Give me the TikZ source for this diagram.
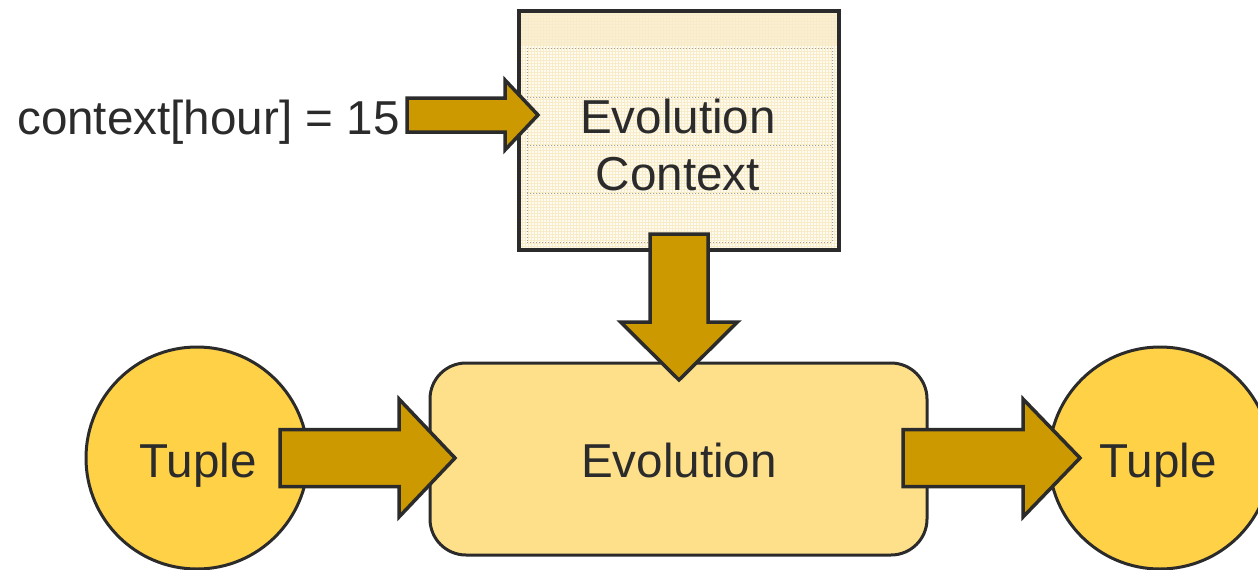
\documentclass[tikz,border=0pt]{standalone}
\usepackage{fontspec}
\setmainfont{Liberation Sans}
\usetikzlibrary{calc,patterns}
\definecolor{edge}{HTML}{2B2B2B}
\definecolor{gold}{HTML}{CC9900}
\definecolor{tuplefill}{HTML}{FFD147}
\definecolor{evofill}{HTML}{FFE08A}
\definecolor{ctxfill}{HTML}{FFFBF0}
\definecolor{ctxband}{HTML}{FAEFD2}
\definecolor{ctxgrid}{HTML}{F8EBC8}
\definecolor{rowline}{HTML}{A0A0A0}
\definecolor{ink}{HTML}{2B2B2B}

% fat block arrow from #1 (tail) to #2 (tip):
% #3 shaft half-width, #4 head half-width, #5 head length
\newcommand\fatarrow[5]{%
  \path[blockarrow] let \p1=(#1), \p2=(#2),
      \n1={atan2(\y2-\y1,\x2-\x1)}, \n2={veclen(\x2-\x1,\y2-\y1)} in
    [shift={(\p1)}, rotate=\n1]
    (0,-#3) -- (\n2-#5,-#3) -- (\n2-#5,-#4) -- (\n2,0) --
    (\n2-#5,#4) -- (\n2-#5,#3) -- (0,#3) -- cycle;}

\begin{document}
\begin{tikzpicture}[x=1pt,y=-1pt,line join=miter,
  lbl/.style={font=\fontsize{47.6}{57}\selectfont,text=ink,inner sep=0pt},
  blockarrow/.style={fill=gold,draw=edge,line width=3.5pt},
  tuple/.style={circle,fill=tuplefill,draw=edge,line width=3pt,
                minimum size=222pt,inner sep=0pt},
  evobox/.style={rectangle,rounded corners=36pt,fill=evofill,draw=edge,
                 line width=3pt,minimum width=497pt,minimum height=192pt},
  ctxbox/.style={rectangle,draw=edge,line width=3.5pt,
                 minimum width=320pt,minimum height=239pt},
  rowsep/.style={draw=rowline,line width=1pt,dotted}]
\useasboundingbox (0,0) rectangle (1258,570);
\clip (0,0) rectangle (1258,570);

% context table
\node[ctxbox,fill=ctxfill] (ctx) at (679,130.5) {};
\fill[ctxband] ($(ctx.north west)+(2,2)$) rectangle ($(ctx.north east)+(-2,37)$);
\fill[pattern=grid,pattern color=ctxgrid]
  ($(ctx.north west)+(2,2)$) rectangle ($(ctx.south east)+(-2,-2)$);
\foreach \yy in {48,97,145,193,242}
  \draw[rowsep] (527,\yy) -- (832,\yy);
\draw[rowsep] (527,48) -- (527,242);
\draw[rowsep] (832,48) -- (832,242);
\node[ctxbox] at (ctx.center) {};
\node[lbl,align=center,anchor=base] (ctxlbl) at (678,190) {Evolution\\Context};

% evolution step and tuples
\node[evobox] (evo) at (678.5,459) {};
\node[lbl,anchor=base] at (679,477) {Evolution};
\node[tuple] (tin) at (197,458) {};
\node[lbl,anchor=base] at (198,477) {Tuple};
\node[tuple] (tout) at (1160,458) {};
\node[lbl,anchor=base] at (1158,477) {Tuple};

% input assignment
\node[lbl,anchor=base west] (assign) at (17,134) {context[hour] = 15};

% arrow end points
\coordinate (a1) at (407,115);  \coordinate (b1) at (538,115);
\coordinate (a2) at (679,234);  \coordinate (b2) at (679,380);
\coordinate (a3) at (280,458);  \coordinate (b3) at (455,458);
\coordinate (a4) at (903,458);  \coordinate (b4) at (1080,458);

\fatarrow{a1}{b1}{17}{35}{33}
\fatarrow{a2}{b2}{29}{58.5}{58}
\fatarrow{a3}{b3}{28.5}{59}{56}
\fatarrow{a4}{b4}{28.5}{59}{57}
\end{tikzpicture}
\end{document}
